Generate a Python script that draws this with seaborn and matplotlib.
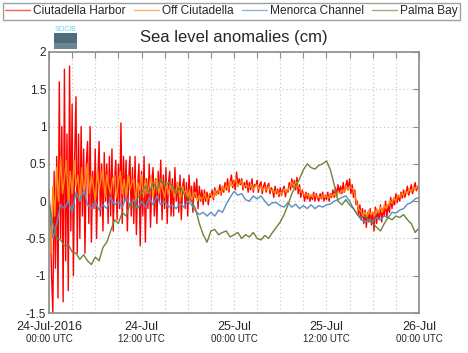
import numpy as np
import pandas as pd
import matplotlib
matplotlib.use("Agg")
import matplotlib.pyplot as plt
from matplotlib.patches import Rectangle
import seaborn as sns

# ---------------- data ----------------
series_names = ["Ciutadella Harbor", "Off Ciutadella", "Menorca Channel", "Palma Bay"]
series_colors = ["#ff0000", "#ff8a14", "#5b8cc4", "#6f8238"]

# Ciutadella Harbor, every 10 min from 24-Jul 00:00 (hours 0..48)
harbor = [
    0.15, -0.3, -1.0, -1.5, 0.4, -0.9,
    0.6, -1.3, 1.6, -0.5, 1.0, -1.35,
    1.77, -0.8, 0.9, -1.2, 1.81, -0.4,
    1.3, -1.0, 0.6, 1.4, -0.7, 0.9,
    -0.5, 1.0, -0.2, 0.7, -0.7, 0.5,
    0.8, -0.3, 1.0, -0.55, 0.4, -0.1,
    0.7, -0.5, 0.3, 0.8, -0.2, 0.5,
    -0.4, 0.65, 0.0, 0.5, -0.3, 0.6,
    -0.2, 0.7, -0.4, 0.3, 0.55, -0.25,
    0.5, -0.1, 1.05, -0.3, 0.6, 0.0,
    0.55, -0.4, 0.3, 0.6, -0.2, 0.45,
    -0.3, 0.6, -0.45, 0.2, 0.5, -0.6,
    0.4, -0.2, 0.6, -0.55, 0.3, -0.1,
    0.5, -0.35, 0.2, 0.45, -0.2, 0.3,
    -0.3, 0.4, 0.0, 0.55, -0.25, 0.35,
    -0.1, 0.45, -0.3, 0.25, 0.4, -0.2,
    0.3, -0.2, 0.45, 0.0, 0.25, -0.15,
    0.35, -0.25, 0.2, 0.3, -0.1, 0.25,
    -0.2, 0.35, 0.0, 0.2, -0.15, 0.25,
    0.05, 0.3, -0.1, 0.2, 0.0, 0.15,
    -0.05, 0.15, 0.0, 0.12, -0.05, 0.1,
    0.05, 0.15, 0.02, 0.18, 0.08, 0.14,
    0.1, 0.22, 0.08, 0.2, 0.12, 0.25,
    0.15, 0.3, 0.12, 0.25, 0.35, 0.18,
    0.28, 0.15, 0.39, 0.2, 0.3, 0.22,
    0.3, 0.15, 0.25, 0.18, 0.28, 0.12,
    0.25, 0.15, 0.3, 0.12, 0.22, 0.2,
    0.28, 0.12, 0.22, 0.26, 0.1, 0.2,
    0.25, 0.12, 0.2, 0.24, 0.1, 0.18,
    0.15, 0.05, 0.2, 0.1, 0.16, 0.06,
    0.18, 0.08, 0.15, 0.2, 0.06, 0.15,
    0.12, 0.25, 0.15, 0.3, 0.18, 0.28,
    0.15, 0.32, 0.1, 0.22, 0.05, 0.15,
    0.1, 0.0, 0.12, 0.03, 0.1, 0.0,
    0.08, 0.02, 0.12, 0.0, 0.1, 0.04,
    0.0, 0.1, 0.03, 0.12, 0.0, 0.08,
    0.02, 0.12, 0.0, 0.1, 0.05, 0.15,
    0.05, 0.18, 0.08, 0.22, 0.12, 0.2,
    0.1, 0.25, 0.12, 0.2, 0.28, 0.15,
    0.3, 0.1, 0.22, 0.05, 0.15, -0.05,
    0.0, -0.2, -0.05, -0.25, -0.1, -0.3,
    -0.12, -0.35, -0.15, -0.28, -0.1, -0.32,
    -0.15, -0.4, -0.08, -0.3, -0.12, -0.25,
    -0.05, -0.28, -0.1, -0.2, 0.0, -0.22,
    -0.05, -0.15, 0.05, -0.1, 0.02, -0.05,
    0.1, -0.02, 0.08, 0.0, 0.12, 0.04,
    0.15, 0.05, 0.12, 0.2, 0.08, 0.15,
    0.22, 0.1, 0.18, 0.25, 0.14, 0.2,
    0.2,
]

# Off Ciutadella, every 15 min
off_ciutadella = [
    0.1, -0.7, 0.2, -0.2,
    0.45, 0.0, 0.6, 0.1,
    0.3, 0.55, 0.0, 0.4,
    0.1, 0.55, 0.2, 0.35,
    0.0, 0.45, 0.1, 0.3,
    0.5, 0.1, 0.35, 0.2,
    0.0, 0.4, 0.15, 0.3,
    0.45, 0.05, 0.35, 0.2,
    0.1, 0.3, 0.35, 0.05,
    0.25, 0.4, 0.1, 0.3,
    0.05, 0.35, 0.15, 0.25,
    0.3, 0.0, 0.25, 0.15,
    0.35, 0.05, 0.3, 0.1,
    0.2, 0.35, 0.05, 0.25,
    0.3, 0.1, 0.25, 0.15,
    0.05, 0.25, 0.1, 0.2,
    0.2, 0.05, 0.15, 0.25,
    0.0, 0.2, 0.1, 0.15,
    0.05, 0.15, 0.0, 0.1,
    0.12, 0.0, 0.08, 0.02,
    0.05, 0.1, 0.0, 0.08,
    0.1, 0.04, 0.14, 0.08,
    0.15, 0.1, 0.2, 0.14,
    0.22, 0.15, 0.27, 0.2,
    0.25, 0.3, 0.2, 0.24,
    0.27, 0.18, 0.22, 0.2,
    0.18, 0.23, 0.15, 0.2,
    0.22, 0.16, 0.2, 0.14,
    0.19, 0.15, 0.2, 0.14,
    0.15, 0.11, 0.15, 0.09,
    0.12, 0.1, 0.16, 0.12,
    0.15, 0.2, 0.25, 0.2,
    0.26, 0.2, 0.17, 0.12,
    0.1, 0.07, 0.1, 0.05,
    0.08, 0.05, 0.09, 0.05,
    0.06, 0.04, 0.08, 0.05,
    0.07, 0.04, 0.09, 0.06,
    0.1, 0.06, 0.13, 0.1,
    0.15, 0.12, 0.19, 0.15,
    0.2, 0.17, 0.15, 0.05,
    -0.05, -0.12, -0.14, -0.2,
    -0.15, -0.21, -0.12, -0.18,
    -0.16, -0.2, -0.1, -0.16,
    -0.08, -0.15, -0.05, -0.1,
    -0.05, 0.0, -0.03, 0.05,
    0.0, 0.08, 0.05, 0.1,
    0.08, 0.13, 0.1, 0.16,
    0.12, 0.18, 0.15, 0.2,
    0.18,
]

# Menorca Channel, every 30 min
menorca = [
    0.0, -0.5, -0.3, -0.05, -0.1, 0.0, -0.15, 0.12, 0.0, 0.15,
    -0.05, -0.1, 0.0, -0.12, -0.05, -0.1, 0.05, -0.05, 0.0, -0.08,
    0.05, -0.05, 0.02, -0.1, 0.0, -0.08, 0.05, -0.05, 0.07, -0.05,
    0.0, -0.08, -0.05, -0.1, -0.03, -0.08, 0.0, -0.05, -0.13, -0.18,
    -0.15, -0.2, -0.15, -0.2, -0.12, -0.15, -0.04, 0.05, 0.13, 0.08,
    0.1, 0.02, 0.0, 0.07, 0.03, 0.07, 0.0, -0.06, -0.02, -0.02,
    -0.06, -0.08, -0.02, -0.08, -0.04, -0.1, -0.06, -0.1, -0.05, -0.1,
    -0.06, -0.08, -0.05, -0.04, 0.0, 0.02, 0.05, 0.07, 0.0, -0.1,
    -0.18, -0.25, -0.28, -0.25, -0.27, -0.22, -0.25, -0.2, -0.22, -0.15,
    -0.16, -0.12, -0.1, -0.04, -0.02, 0.03, 0.05,
]

# Palma Bay, every 30 min
palma = [
    0.0, -0.3, -0.5, -0.52, -0.6, -0.58, -0.68, -0.7, -0.78, -0.72,
    -0.8, -0.85, -0.75, -0.8, -0.62, -0.55, -0.4, -0.25, -0.3, -0.15,
    -0.2, -0.05, -0.1, 0.05, 0.1, 0.2, 0.1, 0.25, 0.15, 0.3,
    0.2, 0.25, 0.2, 0.1, 0.2, 0.1, 0.05, 0.0, -0.1, -0.3,
    -0.45, -0.55, -0.4, -0.38, -0.45, -0.42, -0.4, -0.48, -0.45, -0.42,
    -0.5, -0.45, -0.48, -0.42, -0.5, -0.52, -0.46, -0.5, -0.42, -0.35,
    -0.28, -0.18, -0.05, 0.1, 0.2, 0.3, 0.42, 0.5, 0.45, 0.43,
    0.48, 0.5, 0.54, 0.42, 0.22, 0.0, -0.05, 0.02, -0.05, -0.1,
    -0.18, -0.22, -0.2, -0.25, -0.3, -0.35, -0.4, -0.3, -0.22, -0.25,
    -0.2, -0.22, -0.18, -0.25, -0.3, -0.42, -0.36,
]

tick_hours = [0, 12, 24, 36, 48]
tick_dates = ["24-Jul-2016", "24-Jul", "25-Jul", "25-Jul", "26-Jul"]
tick_times = ["00:00 UTC", "12:00 UTC", "00:00 UTC", "12:00 UTC", "00:00 UTC"]
y_ticks = [-1.5, -1, -0.5, 0, 0.5, 1, 1.5, 2]
y_tick_labels = ["-1.5", "-1", "-0.5", "0", "0.5", "1", "1.5", "2"]

frames = []
for name, vals, step in [
    ("Ciutadella Harbor", harbor, 1 / 6),
    ("Off Ciutadella", off_ciutadella, 0.25),
    ("Menorca Channel", menorca, 0.5),
    ("Palma Bay", palma, 0.5),
]:
    frames.append(pd.DataFrame({"hour": np.arange(len(vals)) * step,
                                "value": vals, "station": name}))
df = pd.concat(frames, ignore_index=True)

# ---------------- plot ----------------
sns.set_style("white")
plt.rcParams["font.family"] = ["Liberation Sans", "DejaVu Sans"]

fig = plt.figure(figsize=(4.68, 3.53), dpi=100)
ax = fig.add_axes([49 / 468, 1 - 313 / 353, 370 / 468, 261 / 353])

sns.lineplot(data=df, x="hour", y="value", hue="station",
             hue_order=series_names, palette=series_colors,
             estimator=None, sort=True, linewidth=1.0, ax=ax, legend=True)

handles, labels = ax.get_legend_handles_labels()
ax.get_legend().remove()
for h in handles:
    h.set_linewidth(1.0)
    h.set_alpha(0.65)

ax.set_xlim(0, 48)
ax.set_ylim(-1.5, 2)
ax.set_xlabel("")
ax.set_ylabel("")

ax.set_xticks(tick_hours)
ax.set_xticklabels(tick_dates, fontsize=9)
ax.set_xticks(np.arange(0, 49, 3), minor=True)
ax.set_yticks(y_ticks)
ax.set_yticklabels(y_tick_labels, fontsize=8.5)

ax.tick_params(axis="both", which="both", direction="in", top=True, right=True,
               color="#8c8c8c", length=4, width=0.8)
ax.tick_params(axis="x", which="major", pad=6)
ax.tick_params(axis="y", which="major", pad=2)

ax.grid(True, which="both", axis="x", linestyle=(0, (1, 2.5)),
        color="#c4c4c4", linewidth=0.8)
ax.grid(True, which="major", axis="y", linestyle=(0, (1, 2.5)),
        color="#c4c4c4", linewidth=0.8)

for s in ax.spines.values():
    s.set_color("#8c8c8c")
    s.set_linewidth(1.2)

for hx, lab in zip(tick_hours, tick_times):
    ax.text(hx, -0.1, lab, transform=ax.get_xaxis_transform(),
            ha="center", va="center", fontsize=7)

ax.set_title("Sea level anomalies (cm)", fontsize=12, pad=7)

leg = fig.legend(handles, labels, loc="upper left",
                 bbox_to_anchor=(3 / 468, 1 - 3 / 353), borderaxespad=0,
                 ncol=4, fontsize=8.6, handlelength=2.1, handletextpad=0.25,
                 columnspacing=0.67, borderpad=0.2, fancybox=False,
                 frameon=True, edgecolor="#888888")
leg.get_frame().set_linewidth(1.0)

# SOCIB logo (drawn)
fig.patches.append(Rectangle((54 / 468, 1 - 49 / 353), 23 / 468, 16 / 353,
                             transform=fig.transFigure, facecolor="#4d6c7c",
                             edgecolor="none"))
fig.patches.append(Rectangle((54 / 468, 1 - 49 / 353), 23 / 468, 6 / 353,
                             transform=fig.transFigure, facecolor="#6f8d9b",
                             edgecolor="none", alpha=0.8))
fig.text(65.5 / 468, 1 - 29.5 / 353, "SOCIB", fontsize=5, color="#6ccfe0",
         ha="center", va="center")

fig.savefig("out.png", dpi=100)
